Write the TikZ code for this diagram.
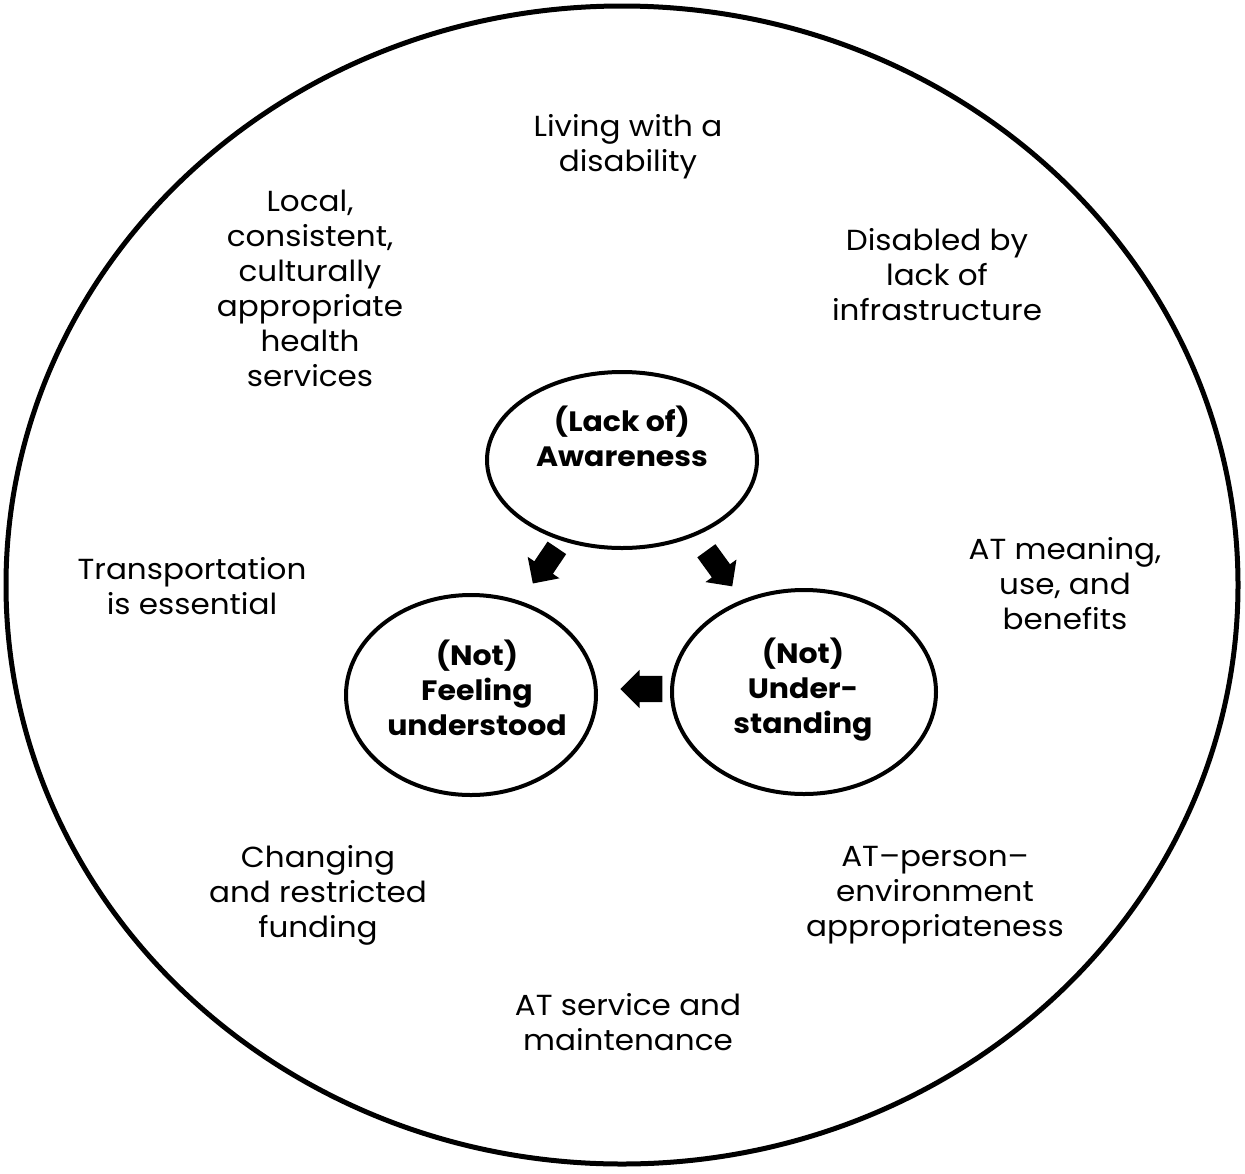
\documentclass[tikz,border=0pt]{standalone}
\usepackage{fontspec}
\setmainfont{Poppins}[FakeStretch=1.07]
\usetikzlibrary{shapes.geometric,shapes.arrows}
\begin{document}
\begin{tikzpicture}[x=1pt,y=-1pt,
  lbl/.style={align=center,font=\fontsize{29}{35}\selectfont,inner sep=0pt},
  core/.style={ellipse,draw,line width=4pt,inner sep=0pt},
  coretext/.style={align=center,font=\fontsize{28}{35}\selectfont\bfseries,inner sep=0pt},
  blk/.style={single arrow,fill=black,inner xsep=0pt,single arrow head indent=0pt}]
\useasboundingbox (0,0) rectangle (1245,1173);
\node[ellipse,draw,line width=5pt,minimum width=1232pt,minimum height=1158pt] (outer) at (622,585) {};
\node[core,minimum width=270pt,minimum height=176pt] (aw) at (622,460) {};
\node[core,minimum width=250pt,minimum height=200pt] (fu) at (471,695) {};
\node[core,minimum width=264pt,minimum height=204pt] (un) at (804,692) {};
\node[coretext] (awt) at (622,436) {(Lack of)\\Awareness};
\node[coretext] (fut) at (477,688) {(Not)\\Feeling\\understood};
\node[coretext] (unt) at (803,690) {(Not)\\Under-\\standing};
\node[blk,inner ysep=11pt,minimum height=43pt,single arrow head extend=8pt,rotate=236] (a1) at (548,561) {};
\node[blk,inner ysep=11pt,minimum height=44pt,single arrow head extend=8pt,rotate=-54] (a2) at (716,564) {};
\node[blk,inner ysep=13pt,minimum height=42pt,single arrow head extend=6pt,rotate=180] (a3) at (648,689) {};
\node[lbl] (t1) at (628,147) {Living with a\\disability};
\node[lbl] (t2) at (310,288) {Local,\\consistent,\\culturally\\appropriate\\health\\services};
\node[lbl] (t3) at (937,275) {Disabled by\\lack of\\infrastructure};
\node[lbl] (t4) at (192,586) {Transportation\\is essential};
\node[lbl] (t5) at (1065,584) {AT meaning,\\use, and\\benefits};
\node[lbl] (t6) at (318,895) {Changing\\and restricted\\funding};
\node[lbl] (t7) at (935,895) {AT--person--\\environment\\appropriateness};
\node[lbl] (t8) at (628,1022) {AT service and\\maintenance};
\end{tikzpicture}
\end{document}
